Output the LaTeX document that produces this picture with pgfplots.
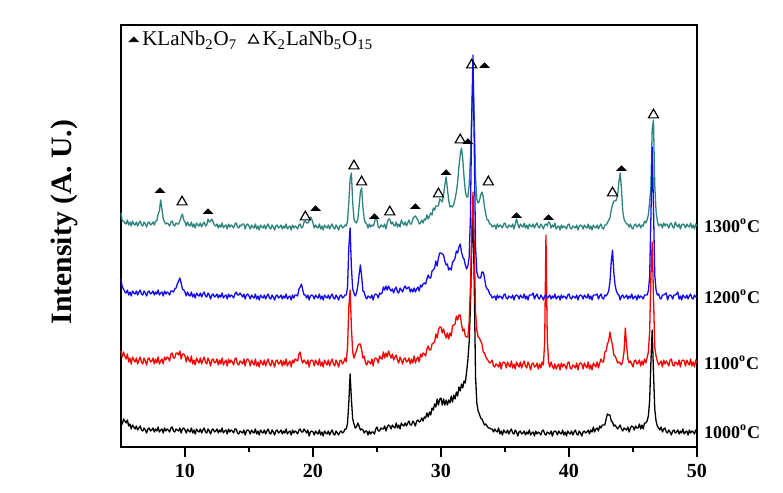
\documentclass[border=0pt]{standalone}
\usepackage{fontspec}
\setmainfont{Liberation Serif}
\usepackage{pgfplots}
\usepackage{pgfplotstable}
\pgfplotsset{compat=1.18}

\definecolor{xteal}{RGB}{45,132,124}
\definecolor{xblue}{RGB}{20,10,240}
\definecolor{xred}{RGB}{250,0,0}

\pgfplotsset{
  onemark/.style={legend image code/.code={\path (0pt,0pt) (5pt,0pt); \draw[##1] plot coordinates {(3pt,0pt)};}},
}

% 2theta, then the four patterns (offset, arbitrary units)
\pgfplotstableread{
tt black red blue teal
5.0 26 96 168 234
5.1 23 90 160 226
5.2 28 95 158 226
5.3 26 91 155 224
5.4 24 88 154 223
5.5 27 93 157 227
5.6 21 85 152 222
5.7 23 89 155 225
5.8 18 83 151 221
5.9 22 90 156 226
6.0 20 87 154 223
6.1 18 85 153 222
6.2 21 89 156 225
6.3 17 83 152 221
6.4 19 87 155 224
6.5 21 90 157 226
6.6 17 85 153 222
6.7 16 83 152 221
6.8 19 89 156 225
6.9 17 86 154 223
7.0 14 82 151 220
7.1 18 88 155 224
7.2 19 89 156 225
7.3 16 85 153 222
7.4 17 86 154 223
7.5 19 89 156 225
7.6 15 83 152 222
7.7 18 88 155 226
7.8 16 84 153 226
7.9 20 90 157 233
8.0 15 83 152 236
8.1 17 86 154 247
8.2 18 88 155 238
8.3 14 83 151 228
8.4 19 90 156 225
8.5 16 87 153 223
8.6 18 90 155 224
8.7 17 89 154 223
8.8 15 86 152 221
8.9 19 93 156 225
9.0 20 94 156 226
9.1 16 89 155 222
9.2 15 89 158 221
9.3 18 94 159 224
9.4 17 94 163 223
9.5 16 92 166 223
9.6 19 96 169 226
9.7 14 88 164 230
9.8 18 93 158 233
9.9 19 93 157 227
10.0 17 91 155 225
10.1 14 85 151 221
10.2 18 91 155 225
10.3 16 87 152 222
10.4 15 85 151 221
10.5 19 91 155 225
10.6 14 83 150 220
10.7 17 87 153 223
10.8 13 82 149 219
10.9 18 89 154 224
11.0 16 86 152 222
11.1 15 84 151 221
11.2 18 89 154 224
11.3 14 83 150 220
11.4 17 87 153 223
11.5 19 90 155 225
11.6 15 85 151 221
11.7 14 83 150 222
11.8 18 89 154 228
11.9 16 86 152 225
12.0 13 81 148 226
12.1 17 87 152 228
12.2 18 88 153 225
12.3 15 84 150 222
12.4 16 85 151 221
12.5 18 88 153 223
12.6 14 82 149 219
12.7 17 87 152 222
12.8 15 83 150 220
12.9 19 89 154 224
13.0 14 82 149 219
13.1 16 85 151 221
13.2 17 87 152 222
13.3 13 81 148 218
13.4 18 88 153 223
13.5 15 84 150 220
13.6 17 87 152 222
13.7 16 85 151 221
13.8 14 82 149 219
13.9 18 88 153 223
14.0 18 89 155 224
14.1 14 83 152 220
14.2 13 82 152 219
14.3 16 86 154 222
14.4 15 85 152 221
14.5 14 83 150 223
14.6 17 88 153 223
14.7 12 81 148 218
14.8 16 87 152 222
14.9 17 88 153 223
15.0 16 86 151 221
15.1 13 81 148 218
15.2 17 87 152 222
15.3 15 84 150 220
15.4 14 82 149 219
15.5 18 88 153 223
15.6 13 81 148 218
15.7 16 85 151 221
15.8 12 80 147 217
15.9 17 87 152 222
16.0 15 84 150 220
16.1 14 82 149 219
16.2 17 87 152 222
16.3 13 81 148 218
16.4 16 85 151 221
16.5 18 88 153 223
16.6 14 83 149 219
16.7 13 81 148 218
16.8 17 87 152 222
16.9 15 84 150 220
17.0 12 80 147 217
17.1 16 86 151 221
17.2 17 87 152 222
17.3 14 83 149 219
17.4 15 84 150 220
17.5 17 87 152 222
17.6 13 81 148 218
17.7 16 86 151 221
17.8 14 82 149 219
17.9 18 88 153 223
18.0 13 81 148 218
18.1 15 84 150 220
18.2 16 86 151 221
18.3 12 80 147 217
18.4 17 87 152 222
18.5 14 84 149 219
18.6 16 88 152 221
18.7 15 87 152 220
18.8 13 86 151 218
18.9 17 93 158 222
19.0 18 95 160 223
19.1 15 87 163 219
19.2 15 84 157 220
19.3 18 87 152 225
19.4 16 85 152 226
19.5 14 83 149 224
19.6 17 87 152 224
19.7 11 80 147 226
19.8 15 86 151 230
19.9 16 87 152 228
20.0 15 86 151 224
20.1 12 81 148 219
20.2 16 87 152 222
20.3 14 84 150 220
20.4 13 82 149 219
20.5 17 88 153 223
20.6 12 81 148 218
20.7 15 85 151 221
20.8 11 80 147 217
20.9 16 87 152 222
21.0 14 84 150 220
21.1 13 82 149 219
21.2 16 87 152 222
21.3 12 81 148 218
21.4 15 85 151 221
21.5 17 88 153 223
21.6 13 83 149 219
21.7 12 81 148 218
21.8 16 87 152 222
21.9 14 84 150 220
22.0 12 80 147 217
22.1 15 86 151 221
22.2 16 87 152 222
22.3 14 83 149 219
22.4 15 85 150 220
22.5 18 89 152 222
22.6 18 85 152 221
22.7 24 100 160 226
22.8 45 140 200 245
22.9 73 157 219 268
23.0 48 120 180 274
23.1 28 95 158 245
23.2 23 89 154 228
23.3 19 93 151 225
23.4 20 96 154 224
23.5 24 101 161 228
23.6 21 103 172 240
23.7 17 103 182 255
23.8 18 97 171 259
23.9 17 89 156 240
24.0 14 91 155 228
24.1 16 84 150 224
24.2 16 82 148 223
24.3 12 86 151 219
24.4 16 85 150 223
24.5 13 83 149 220
24.6 15 88 152 222
24.7 15 81 147 221
24.8 13 88 152 224
24.9 18 89 153 230
25.0 20 88 152 227
25.1 16 84 149 220
25.2 16 91 154 219
25.3 19 89 153 222
25.4 18 88 154 221
25.5 18 95 160 220
25.6 21 89 157 223
25.7 16 94 161 218
25.8 20 90 157 224
25.9 22 96 161 228
26.0 21 92 158 228
26.1 18 89 156 223
26.2 22 93 158 225
26.3 20 87 154 222
26.4 19 90 158 221
26.5 24 92 160 225
26.6 19 87 155 220
26.7 22 84 154 223
26.8 18 90 159 220
26.9 24 87 157 227
27.0 22 83 155 224
27.1 21 88 159 222
27.2 24 89 161 225
27.3 21 85 158 221
27.4 24 86 159 224
27.5 26 89 160 227
27.6 22 83 155 223
27.7 22 88 158 223
27.8 26 84 155 228
27.9 24 91 159 230
28.0 21 84 155 231
28.1 26 88 158 229
28.2 27 90 160 227
28.3 25 85 156 223
28.4 26 93 162 224
28.5 29 90 160 227
28.6 26 94 163 224
28.7 30 93 164 228
28.8 29 91 163 227
28.9 34 98 168 232
29.0 30 101 172 228
29.1 35 97 169 231
29.2 32 97 169 234
29.3 39 103 176 232
29.4 37 104 177 239
29.5 43 105 179 237
29.6 40 113 186 241
29.7 48 109 181 241
29.8 42 117 189 241
29.9 48 120 194 248
30.0 49 120 194 247
30.1 42 114 193 245
30.2 48 118 192 252
30.3 42 113 186 262
30.4 47 109 182 270
30.5 42 114 183 258
30.6 47 108 177 247
30.7 44 114 179 240
30.8 51 111 177 241
30.9 45 121 185 240
31.0 52 122 186 243
31.1 48 123 189 248
31.2 55 131 196 255
31.3 51 127 194 265
31.4 60 132 200 280
31.5 56 132 203 292
31.6 63 123 195 299
31.7 59 116 190 288
31.8 66 118 188 270
31.9 64 111 182 256
32.0 75 110 178 250
32.1 87 110 181 250
32.2 105 125 190 262
32.3 140 160 230 290
32.4 200 215 330 330
32.5 240 255 392 372
32.6 160 200 300 330
32.7 70 135 200 270
32.8 44 117 175 248
32.9 36 110 170 244
33.0 33 109 169 246
33.1 29 106 169 252
33.2 28 103 175 255
33.3 25 95 175 250
33.4 22 94 169 240
33.5 23 90 161 233
33.6 21 88 158 227
33.7 19 86 157 227
33.8 19 84 153 223
33.9 18 85 152 223
34.0 18 87 149 220
34.1 15 81 150 221
34.2 18 80 151 222
34.3 16 83 147 218
34.4 15 82 152 223
34.5 19 80 149 220
34.6 13 85 151 222
34.7 16 78 150 221
34.8 12 84 148 219
34.9 17 85 152 223
35.0 15 84 153 224
35.1 14 79 149 220
35.2 17 85 148 219
35.3 13 82 151 222
35.4 16 80 150 221
35.5 18 86 149 220
35.6 14 79 152 223
35.7 13 83 147 218
35.8 17 78 151 223
35.9 15 85 152 228
36.0 11 82 151 223
36.1 15 80 148 219
36.2 16 85 152 223
36.3 13 79 150 221
36.4 14 83 149 220
36.5 16 86 153 224
36.6 12 81 148 219
36.7 15 79 151 222
36.8 13 85 147 218
36.9 17 82 152 223
37.0 12 77 152 221
37.1 14 83 152 220
37.2 15 84 154 223
37.3 11 80 148 219
37.4 16 81 151 222
37.5 13 84 153 224
37.6 15 78 149 220
37.7 14 83 148 219
37.8 12 79 152 223
37.9 16 85 150 221
38.0 17 82 147 218
38.1 13 105 151 222
38.2 12 212 152 223
38.3 15 110 149 221
38.4 14 85 150 225
38.5 13 80 152 224
38.6 16 85 148 219
38.7 11 81 151 222
38.8 15 78 149 220
38.9 16 83 153 224
39.0 15 78 148 218
39.1 12 81 150 220
39.2 16 83 151 221
39.3 14 77 147 217
39.4 13 84 152 222
39.5 17 80 149 219
39.6 12 83 151 221
39.7 15 81 150 220
39.8 11 78 148 218
39.9 16 84 152 222
40.0 14 85 153 223
40.1 13 79 149 219
40.2 16 78 148 218
40.3 12 82 151 221
40.4 15 81 150 220
40.5 17 79 149 219
40.6 13 84 152 222
40.7 12 77 147 217
40.8 16 83 151 221
40.9 14 84 152 222
41.0 11 83 151 221
41.1 15 78 148 218
41.2 16 84 152 222
41.3 14 81 150 220
41.4 15 79 149 219
41.5 17 85 153 223
41.6 13 78 148 218
41.7 17 82 151 221
41.8 15 77 147 217
41.9 20 84 152 222
42.0 15 82 152 220
42.1 18 80 152 219
42.2 19 85 153 222
42.3 16 79 148 218
42.4 21 84 151 221
42.5 19 88 153 223
42.6 22 85 149 219
42.7 22 85 148 218
42.8 22 95 152 222
42.9 28 96 151 222
43.0 33 103 153 224
43.1 32 106 156 227
43.2 32 115 165 229
43.3 26 107 185 237
43.4 25 102 197 242
43.5 21 92 175 246
43.6 22 91 162 246
43.7 20 88 156 247
43.8 18 84 153 252
43.9 20 85 152 265
44.0 22 84 147 274
44.1 18 82 151 258
44.2 16 86 152 236
44.3 19 95 149 228
44.4 18 119 150 225
44.5 17 102 152 223
44.6 20 88 148 223
44.7 15 84 151 220
44.8 19 86 149 223
44.9 21 83 153 219
45.0 20 80 148 218
45.1 17 86 150 222
45.2 21 87 151 223
45.3 19 83 147 220
45.4 19 84 152 221
45.5 23 87 149 223
45.6 18 81 151 219
45.7 22 86 150 222
45.8 18 82 148 221
45.9 24 88 152 226
46.0 24 84 152 224
46.1 26 89 152 227
46.2 31 95 156 232
46.3 46 115 170 245
46.4 85 170 230 260
46.5 117 205 300 318
46.6 75 150 240 327
46.7 38 100 172 262
46.8 26 91 157 236
46.9 21 86 152 226
47.0 19 82 153 221
47.1 17 84 149 222
47.2 20 86 148 223
47.3 15 80 152 219
47.4 18 87 152 224
47.5 19 83 153 221
47.6 15 86 154 223
47.7 14 84 147 222
47.8 17 81 151 219
47.9 15 87 152 223
48.0 12 88 151 224
48.1 16 82 148 220
48.2 17 81 152 219
48.3 14 85 152 225
48.4 15 84 153 222
48.5 17 82 155 220
48.6 13 87 148 223
48.7 16 80 151 218
48.8 14 86 147 222
48.9 18 87 152 223
49.0 13 86 150 222
49.1 15 81 149 219
49.2 16 87 152 223
49.3 12 84 148 221
49.4 17 82 151 220
49.5 14 88 153 224
49.6 16 81 149 219
49.7 15 85 148 222
49.8 13 80 152 218
49.9 17 87 150 223
50.0 15 84 151 221
}\xrd

% peak markers, KLaNb2O7 (filled)
\pgfplotstableread{
tt y
8.05 256
11.8 235
20.2 238
24.8 230
28.0 240
30.4 274
32.1 305
33.4 381
35.9 231
38.4 229
44.1 278
}\phaseA

% peak markers, K2LaNb5O15 (open)
\pgfplotstableread{
tt y
9.77 245
19.4 230
23.2 281
23.8 265
26.0 235
29.8 253
31.5 307
32.4 382
33.7 265
43.4 254
46.6 332
}\phaseB

\begin{document}
\begin{tikzpicture}
\path[use as bounding box] (-60.5pt,-23pt) rectangle (331pt,223.5pt);
\begin{axis}[
  scale only axis, width=288pt, height=211pt,
  xmin=5, xmax=50, ymin=0, ymax=422,
  xtick={10,20,30,40,50}, minor xtick={15,25,35,45},
  xtick pos=bottom, tick align=outside,
  major tick length=5pt, minor tick length=2.5pt,
  ytick=\empty,
  axis line style={line width=1.1pt},
  every tick/.style={black, line width=1pt},
  ticklabel style={font=\bfseries\fontsize{10}{12}\selectfont},
  /pgf/number format/assume math mode=true,
  ylabel={Intensity (A. U.)},
  ylabel style={font=\bfseries\fontsize{14.8}{17}\selectfont,
    at={(axis description cs:-0.099,0.533)}, anchor=center},
  clip=false,
  legend style={at={(axis description cs:0,1)}, anchor=north west,
    xshift=3pt, yshift=-1pt, inner sep=0pt, draw=none, fill=none,
    font=\fontsize{10.5}{12}\selectfont,
    /tikz/every even column/.append style={column sep=3pt}},
  legend columns=2,
]
\addplot[forget plot, black, line width=0.65pt, line join=round] table[x=tt,y=black]{\xrd};
\addplot[forget plot, xred, line width=0.65pt, line join=round] table[x=tt,y=red]{\xrd};
\addplot[forget plot, xteal, line width=0.65pt, line join=round] table[x=tt,y=teal]{\xrd};
\addplot[forget plot, xblue, line width=0.65pt, line join=round] table[x=tt,y=blue]{\xrd};

\addplot[only marks, mark=triangle*, mark size=2.6pt,
  mark options={black, fill=black, yscale=0.6}, onemark]
  table[x=tt,y=y]{\phaseA};
\addlegendentry{KLaNb\textsubscript{2}O\textsubscript{7}}
\addplot[only marks, mark=triangle, mark size=2.9pt,
  mark options={black, line width=0.6pt}, onemark]
  table[x=tt,y=y]{\phaseB};
\addlegendentry{K\textsubscript{2}LaNb\textsubscript{5}O\textsubscript{15}}

\node[anchor=west, font=\bfseries\fontsize{9}{11}\selectfont] at (axis cs:50,221) {1300\textsuperscript{o}C};
\node[anchor=west, font=\bfseries\fontsize{9}{11}\selectfont] at (axis cs:50,150) {1200\textsuperscript{o}C};
\node[anchor=west, font=\bfseries\fontsize{9}{11}\selectfont] at (axis cs:50,84) {1100\textsuperscript{o}C};
\node[anchor=west, font=\bfseries\fontsize{9}{11}\selectfont] at (axis cs:50,15) {1000\textsuperscript{o}C};
\end{axis}
\end{tikzpicture}
\end{document}
